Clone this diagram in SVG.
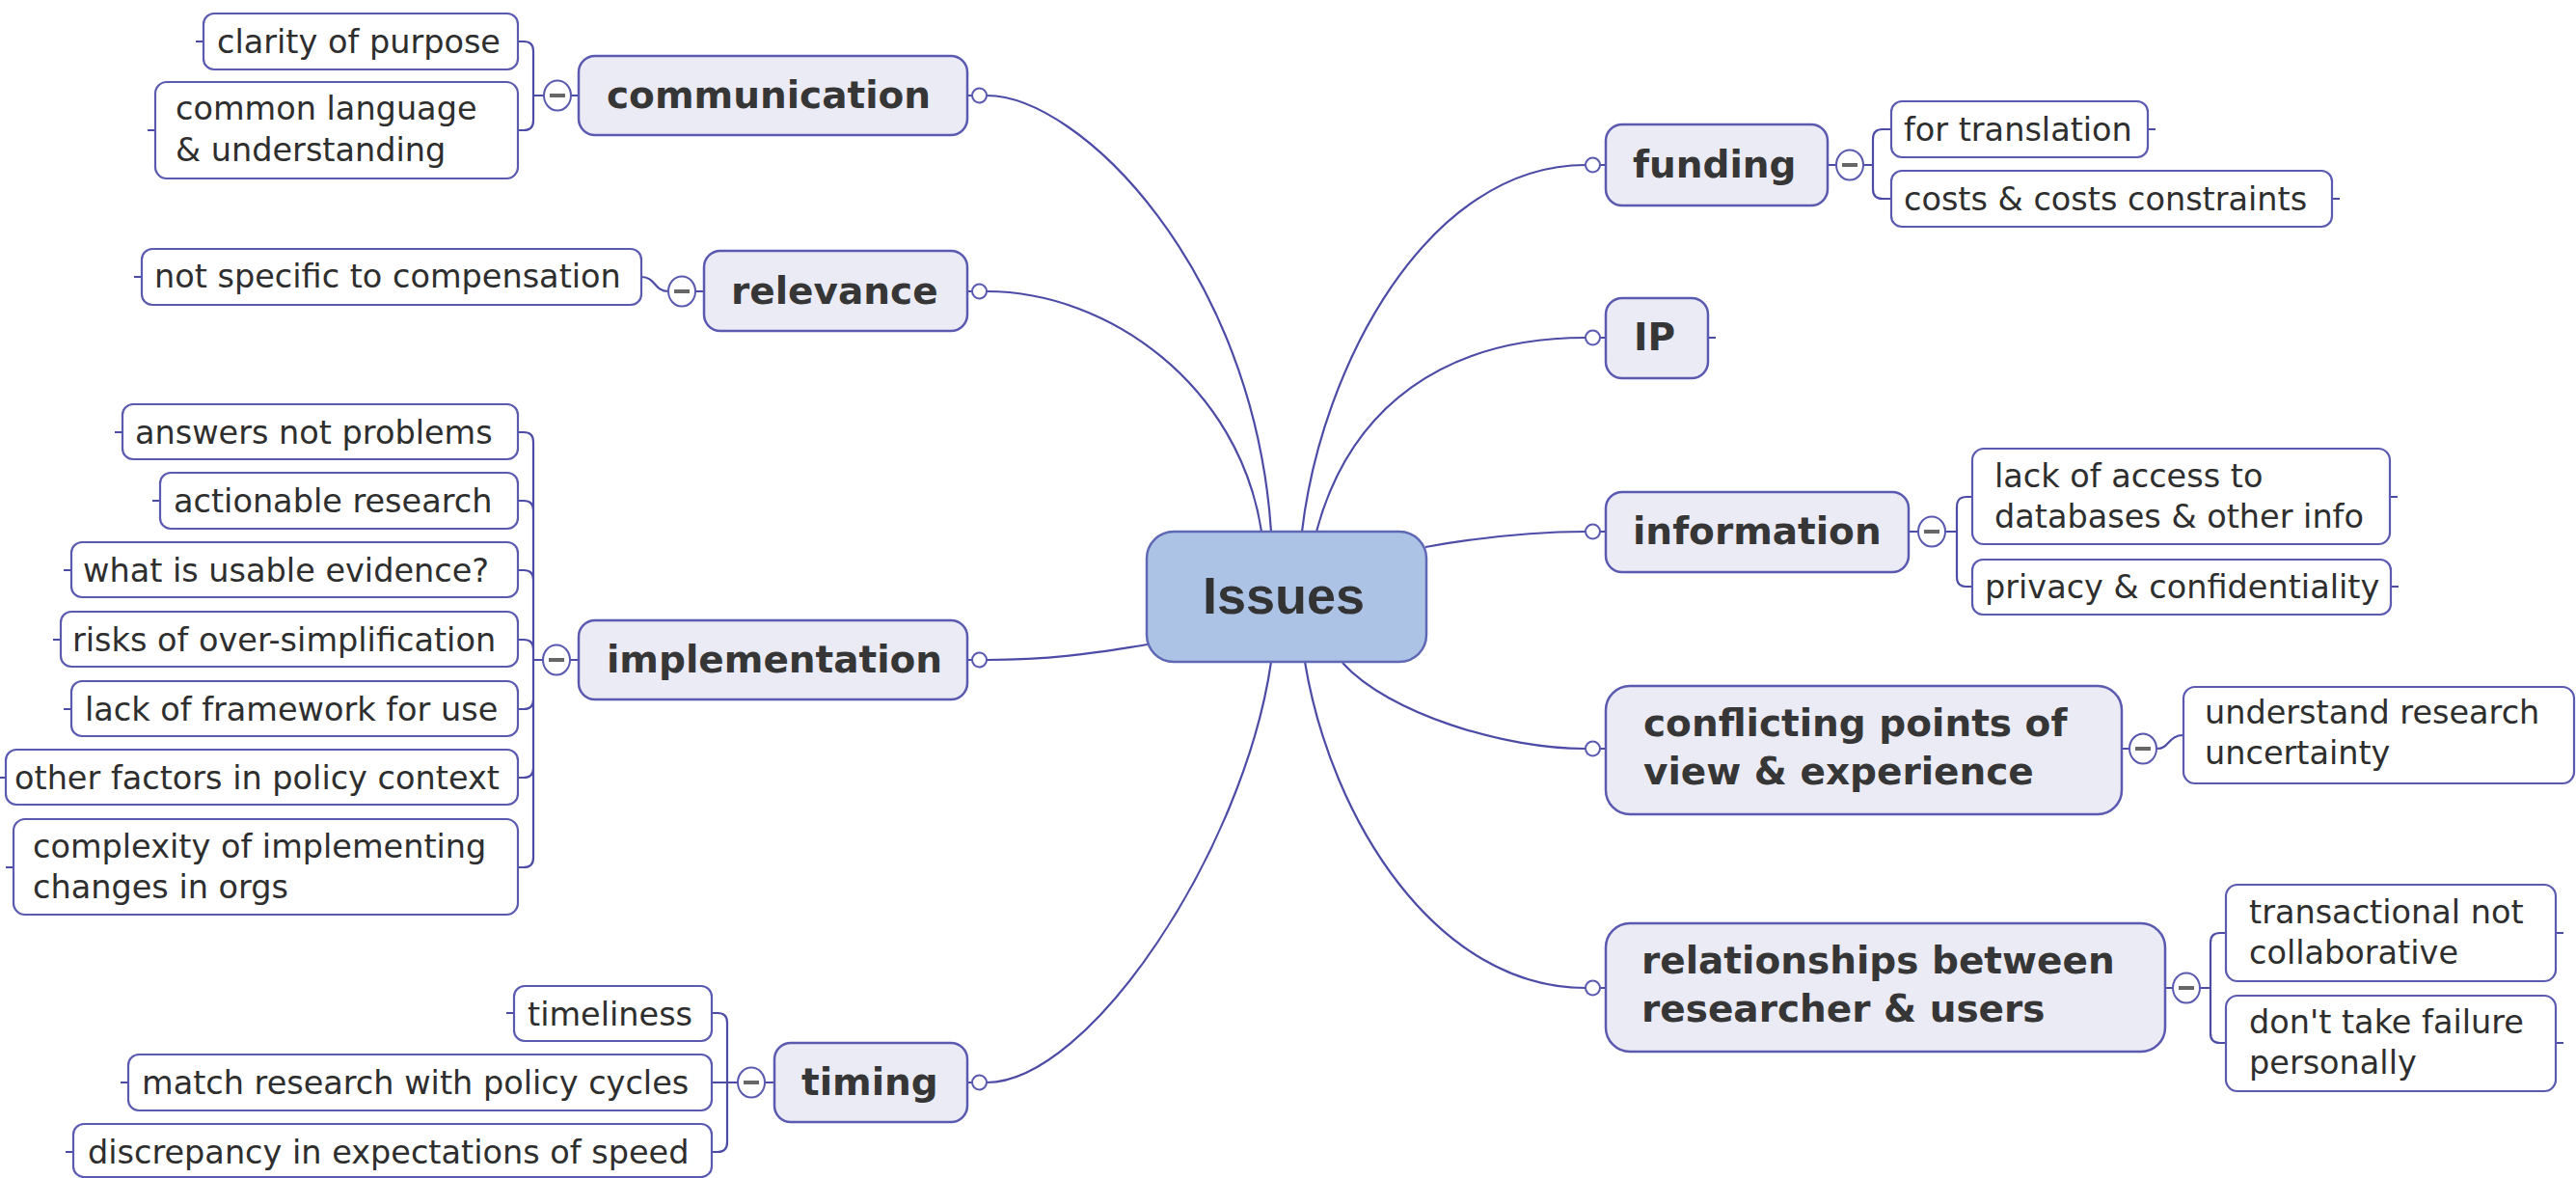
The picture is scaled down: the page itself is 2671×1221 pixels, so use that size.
<svg xmlns="http://www.w3.org/2000/svg" width="2671" height="1221" viewBox="0 0 2671 1221">
  <style>
    .bg { fill: #ffffff; }
    .root rect { fill: #adc3e6; stroke: #5f68b4; stroke-width: 2.5; }
    .topic rect { fill: #ebebf5; stroke: #5a5ab0; stroke-width: 2.5; }
    .leaf rect { fill: #ffffff; stroke: #5a5ab0; stroke-width: 2.2; }
    .conn { fill: none; stroke: #4c4ca6; stroke-width: 2.2; }
    .knob { fill: #ffffff; stroke: #5a5ab0; stroke-width: 2; }
    .toggle { fill: #ffffff; stroke: #5a5ab0; stroke-width: 2; }
    .minus { stroke: #666666; stroke-width: 4; }
    .t-root { font-family: "Liberation Sans", Arial, sans-serif; font-weight: bold; font-size: 54px; fill: #333333; }
    .t-topic { font-family: "DejaVu Sans", sans-serif; font-weight: bold; font-size: 39px; fill: #363636; }
    .t-leaf { font-family: "DejaVu Sans", sans-serif; font-size: 33.5px; fill: #2e2e2e; }
  </style>

  <rect class="bg" x="0" y="0" width="2671" height="1221"/>

  <!-- branch connectors, brackets and stubs -->
  <g id="connectors">
    <!-- root to main topics -->
    <path class="conn" d="M1023,99 C1120,99 1300,280 1318,551"/>
    <path class="conn" d="M1023,302 C1150,302 1285,400 1308,551"/>
    <path class="conn" d="M1023,684 C1100,684 1150,674 1190,668"/>
    <path class="conn" d="M1023,1122 C1130,1122 1290,880 1318,686"/>
    <path class="conn" d="M1350,551 C1370,380 1480,171 1644,171"/>
    <path class="conn" d="M1365,551 C1400,420 1500,350 1644,350"/>
    <path class="conn" d="M1478,567 C1540,556 1590,551 1644,551"/>
    <path class="conn" d="M1392,687 C1440,740 1560,776 1644,776"/>
    <path class="conn" d="M1353,686 C1380,850 1490,1024 1644,1024"/>

    <!-- topic edge to knob -->
    <path class="conn" d="M1003,99 H1008 M1003,302 H1008 M1003,684 H1008 M1003,1122 H1008"/>
    <path class="conn" d="M1659,171 H1665 M1659,350 H1665 M1659,551 H1665 M1659,776 H1665 M1659,1024 H1665"/>

    <!-- communication bracket -->
    <path class="conn" d="M537,43 h6 q10,0 10,10 V125 q0,10 -10,10 h-6 M553,99 H564 M592,99 H600"/>
    <!-- relevance -->
    <path class="conn" d="M665,287 C680,287 678,302 693,302 M721,302 H730"/>
    <!-- implementation bracket -->
    <path class="conn" d="M537,448 h6 q10,0 10,10 V889 q0,10 -10,10 h-6 M537,519 h6 q10,0 10,10 M537,591 h6 q10,0 10,10 M537,663 h6 q10,0 10,10 M537,735 h6 q10,0 10,-10 M537,806 h6 q10,0 10,-10 M553,684 H563 M591,684 H600"/>
    <!-- timing bracket -->
    <path class="conn" d="M738,1050 h6 q10,0 10,10 V1184 q0,10 -10,10 h-6 M738,1122 H765 M793,1122 H803"/>
    <!-- funding bracket -->
    <path class="conn" d="M1895,171 H1904 M1932,171 H1942 M1961,134 h-9 q-10,0 -10,10 V196 q0,10 10,10 h9"/>
    <!-- information bracket -->
    <path class="conn" d="M1979,551 H1989 M2017,551 H2029 M2045,515 h-6 q-10,0 -10,10 V598 q0,10 10,10 h6"/>
    <!-- conflicting -->
    <path class="conn" d="M2200,776 H2208 M2236,776 C2250,776 2248,762 2264,762"/>
    <!-- relationships bracket -->
    <path class="conn" d="M2245,1024 H2253 M2281,1024 H2292 M2308,967 h-6 q-10,0 -10,10 V1071 q0,10 10,10 h6"/>

    <!-- outer stubs on leaves -->
    <path class="conn" d="M203,43 H211 M153,135 H161 M139,287 H147 M119,448 H127 M158,519 H166 M66,591 H74 M55,663 H63 M66,735 H74 M0,806 H6 M6,899 H14 M525,1050 H533 M125,1122 H133 M68,1194 H76"/>
    <path class="conn" d="M2227,134 H2235 M2418,206 H2426 M1771,350 H1779 M2478,515 H2486 M2479,608 H2487 M2650,967 H2658 M2650,1081 H2658"/>

    <!-- knobs at topic ends -->
    <circle class="knob" cx="1015.5" cy="99" r="7.5"/>
    <circle class="knob" cx="1015.5" cy="302" r="7.5"/>
    <circle class="knob" cx="1015.5" cy="684" r="7.5"/>
    <circle class="knob" cx="1015.5" cy="1122" r="7.5"/>
    <circle class="knob" cx="1651.5" cy="171" r="7.5"/>
    <circle class="knob" cx="1651.5" cy="350" r="7.5"/>
    <circle class="knob" cx="1651.5" cy="551" r="7.5"/>
    <circle class="knob" cx="1651.5" cy="776" r="7.5"/>
    <circle class="knob" cx="1651.5" cy="1024" r="7.5"/>

    <!-- collapse toggles -->
    <g>
      <ellipse class="toggle" cx="578" cy="99" rx="14" ry="15.5"/><line class="minus" x1="570" y1="99" x2="586" y2="99"/>
      <ellipse class="toggle" cx="707" cy="302" rx="14" ry="15.5"/><line class="minus" x1="699" y1="302" x2="715" y2="302"/>
      <ellipse class="toggle" cx="577" cy="684" rx="14" ry="15.5"/><line class="minus" x1="569" y1="684" x2="585" y2="684"/>
      <ellipse class="toggle" cx="779" cy="1122" rx="14" ry="15.5"/><line class="minus" x1="771" y1="1122" x2="787" y2="1122"/>
      <ellipse class="toggle" cx="1918" cy="171" rx="14" ry="15.5"/><line class="minus" x1="1910" y1="171" x2="1926" y2="171"/>
      <ellipse class="toggle" cx="2003" cy="551" rx="14" ry="15.5"/><line class="minus" x1="1995" y1="551" x2="2011" y2="551"/>
      <ellipse class="toggle" cx="2222" cy="776" rx="14" ry="15.5"/><line class="minus" x1="2214" y1="776" x2="2230" y2="776"/>
      <ellipse class="toggle" cx="2267" cy="1024" rx="14" ry="15.5"/><line class="minus" x1="2259" y1="1024" x2="2275" y2="1024"/>
    </g>
  </g>

  <!-- central topic -->
  <g id="issues" class="root">
    <rect x="1189" y="551" width="290" height="135" rx="28"/>
    <text class="t-root" x="1331" y="636" text-anchor="middle">Issues</text>
  </g>

  <!-- main topics -->
  <g id="communication" class="topic">
    <rect x="600" y="58" width="403" height="82" rx="17"/>
    <text class="t-topic" x="629" y="112">communication</text>
  </g>
  <g id="relevance" class="topic">
    <rect x="730" y="260" width="273" height="83" rx="17"/>
    <text class="t-topic" x="758" y="315">relevance</text>
  </g>
  <g id="implementation" class="topic">
    <rect x="600" y="643" width="403" height="82" rx="17"/>
    <text class="t-topic" x="629" y="697">implementation</text>
  </g>
  <g id="timing" class="topic">
    <rect x="803" y="1081" width="200" height="82" rx="17"/>
    <text class="t-topic" x="831" y="1135">timing</text>
  </g>
  <g id="funding" class="topic">
    <rect x="1665" y="129" width="230" height="84" rx="17"/>
    <text class="t-topic" x="1693" y="184">funding</text>
  </g>
  <g id="ip" class="topic">
    <rect x="1665" y="309" width="106" height="83" rx="17"/>
    <text class="t-topic" x="1694" y="363">IP</text>
  </g>
  <g id="information" class="topic">
    <rect x="1665" y="510" width="314" height="83" rx="17"/>
    <text class="t-topic" x="1693" y="564">information</text>
  </g>
  <g id="conflicting" class="topic">
    <rect x="1665" y="711" width="535" height="133" rx="25"/>
    <text class="t-topic" x="1704" y="763">conflicting points of</text>
    <text class="t-topic" x="1704" y="813">view &amp; experience</text>
  </g>
  <g id="relationships" class="topic">
    <rect x="1665" y="957" width="580" height="133" rx="25"/>
    <text class="t-topic" x="1702" y="1009">relationships between</text>
    <text class="t-topic" x="1702" y="1059">researcher &amp; users</text>
  </g>

  <!-- subtopics: communication -->
  <g id="clarity" class="leaf">
    <rect x="211" y="14" width="326" height="58" rx="11"/>
    <text class="t-leaf" x="225" y="55">clarity of purpose</text>
  </g>
  <g id="common-language" class="leaf">
    <rect x="161" y="85" width="376" height="100" rx="12"/>
    <text class="t-leaf" x="182" y="124">common language</text>
    <text class="t-leaf" x="182" y="167">&amp; understanding</text>
  </g>

  <!-- subtopics: relevance -->
  <g id="not-specific" class="leaf">
    <rect x="147" y="258" width="518" height="58" rx="11"/>
    <text class="t-leaf" x="160" y="298">not specific to compensation</text>
  </g>

  <!-- subtopics: implementation -->
  <g id="answers" class="leaf">
    <rect x="127" y="419" width="410" height="57" rx="11"/>
    <text class="t-leaf" x="140" y="460">answers not problems</text>
  </g>
  <g id="actionable" class="leaf">
    <rect x="166" y="490" width="371" height="58" rx="11"/>
    <text class="t-leaf" x="180" y="531">actionable research</text>
  </g>
  <g id="usable-evidence" class="leaf">
    <rect x="74" y="562" width="463" height="57" rx="11"/>
    <text class="t-leaf" x="86" y="603">what is usable evidence?</text>
  </g>
  <g id="over-simplification" class="leaf">
    <rect x="63" y="634" width="474" height="57" rx="11"/>
    <text class="t-leaf" x="75" y="675">risks of over-simplification</text>
  </g>
  <g id="framework" class="leaf">
    <rect x="74" y="706" width="463" height="57" rx="11"/>
    <text class="t-leaf" x="88" y="747">lack of framework for use</text>
  </g>
  <g id="policy-context" class="leaf">
    <rect x="6" y="777" width="531" height="57" rx="11"/>
    <text class="t-leaf" x="15" y="818">other factors in policy context</text>
  </g>
  <g id="complexity" class="leaf">
    <rect x="14" y="849" width="523" height="99" rx="12"/>
    <text class="t-leaf" x="34" y="889">complexity of implementing</text>
    <text class="t-leaf" x="34" y="931">changes in orgs</text>
  </g>

  <!-- subtopics: timing -->
  <g id="timeliness" class="leaf">
    <rect x="533" y="1022" width="205" height="57" rx="11"/>
    <text class="t-leaf" x="547" y="1063">timeliness</text>
  </g>
  <g id="policy-cycles" class="leaf">
    <rect x="133" y="1093" width="605" height="58" rx="11"/>
    <text class="t-leaf" x="147" y="1134">match research with policy cycles</text>
  </g>
  <g id="speed" class="leaf">
    <rect x="76" y="1165" width="662" height="55" rx="11"/>
    <text class="t-leaf" x="91" y="1206">discrepancy in expectations of speed</text>
  </g>

  <!-- subtopics: funding -->
  <g id="translation" class="leaf">
    <rect x="1961" y="105" width="266" height="58" rx="11"/>
    <text class="t-leaf" x="1974" y="146">for translation</text>
  </g>
  <g id="costs" class="leaf">
    <rect x="1961" y="177" width="457" height="58" rx="11"/>
    <text class="t-leaf" x="1974" y="218">costs &amp; costs constraints</text>
  </g>

  <!-- subtopics: information -->
  <g id="access" class="leaf">
    <rect x="2045" y="465" width="433" height="99" rx="12"/>
    <text class="t-leaf" x="2068" y="505">lack of access to</text>
    <text class="t-leaf" x="2068" y="547">databases &amp; other info</text>
  </g>
  <g id="privacy" class="leaf">
    <rect x="2045" y="580" width="434" height="57" rx="11"/>
    <text class="t-leaf" x="2058" y="620">privacy &amp; confidentiality</text>
  </g>

  <!-- subtopics: conflicting points of view -->
  <g id="uncertainty" class="leaf">
    <rect x="2264" y="712" width="405" height="100" rx="12"/>
    <text class="t-leaf" x="2286" y="750">understand research</text>
    <text class="t-leaf" x="2286" y="792">uncertainty</text>
  </g>

  <!-- subtopics: relationships -->
  <g id="transactional" class="leaf">
    <rect x="2308" y="917" width="342" height="100" rx="12"/>
    <text class="t-leaf" x="2332" y="957">transactional not</text>
    <text class="t-leaf" x="2332" y="999">collaborative</text>
  </g>
  <g id="failure" class="leaf">
    <rect x="2308" y="1032" width="342" height="99" rx="12"/>
    <text class="t-leaf" x="2332" y="1071">don't take failure</text>
    <text class="t-leaf" x="2332" y="1113">personally</text>
  </g>
</svg>
